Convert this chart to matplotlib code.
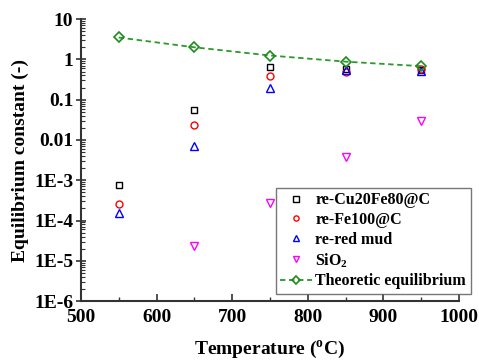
import matplotlib
matplotlib.use("Agg")
import matplotlib.pyplot as plt
from matplotlib.ticker import LogLocator, MultipleLocator, FuncFormatter

temps = [550, 650, 750, 850, 950]
cu20fe80 = [7.5e-4, 0.057, 0.63, 0.58, 0.56]
fe100 = [2.5e-4, 0.023, 0.38, 0.50, 0.58]
redmud = [1.5e-4, 0.0069, 0.20, 0.55, 0.53]
sio2_t = [650, 750, 850, 950]
sio2 = [2.3e-5, 2.7e-4, 0.0037, 0.030]
theo = [3.5, 2.0, 1.25, 0.88, 0.68]

ytick_vals = [1e-6, 1e-5, 1e-4, 1e-3, 0.01, 0.1, 1, 10]
ytick_labels = ["1E-6", "1E-5", "1E-4", "1E-3", "0.01", "0.1", "1", "10"]

plt.rcParams['font.family'] = ['Liberation Serif', 'DejaVu Serif']
plt.rcParams['font.weight'] = 'bold'
plt.rcParams['mathtext.fontset'] = 'custom'
plt.rcParams['mathtext.rm'] = 'Liberation Serif:bold'
plt.rcParams['mathtext.bf'] = 'Liberation Serif:bold'

fig = plt.figure(figsize=(4.79, 3.61), dpi=100)
ax = fig.add_axes([0.169, 0.166, 0.789, 0.781])

ms = 5
ax.plot(temps, cu20fe80, 's', mfc='none', mec='black', ms=ms, mew=1.0, label='re-Cu20Fe80@C')
ax.plot(temps, fe100, 'o', mfc='none', mec='red', ms=ms, mew=1.0, label='re-Fe100@C')
ax.plot(temps, redmud, '^', mfc='none', mec='blue', ms=ms+1, mew=1.0, label='re-red mud')
ax.plot(sio2_t, sio2, 'v', mfc='none', mec='magenta', ms=ms+1, mew=1.0, label='SiO$_2$')
ax.plot(temps, theo, '--D', color='#2a9a2a', mfc='none', mec='#1f8a1f', ms=ms, mew=1.2, lw=1.3,
        dashes=(3, 2), label='Theoretic equilibrium')

ax.set_yscale('log')
ax.set_ylim(1e-6, 10)
ax.set_xlim(500, 1000)
ax.set_yticks(ytick_vals)
ax.set_yticklabels(ytick_labels)
ax.yaxis.set_minor_locator(LogLocator(base=10, subs=range(2, 10), numticks=20))
ax.yaxis.set_minor_formatter(FuncFormatter(lambda v, p: ''))
ax.xaxis.set_major_locator(MultipleLocator(100))
ax.xaxis.set_minor_locator(MultipleLocator(50))

for s in ['top', 'right']:
    ax.spines[s].set_visible(False)
for s in ['left', 'bottom']:
    ax.spines[s].set_color('#333333')
    ax.spines[s].set_linewidth(1.5)

ax.tick_params(axis='y', which='major', direction='inout', length=7, width=1.2, labelsize=14, color='#333333', pad=2)
ax.tick_params(axis='y', which='minor', direction='in', length=3, width=0.8, color='#333333')
ax.tick_params(axis='x', which='major', direction='in', length=5, width=1.2, labelsize=14, color='#333333', pad=6)
ax.tick_params(axis='x', which='minor', direction='in', length=3, width=1.0, color='#333333')

for lab in ax.get_xticklabels() + ax.get_yticklabels():
    lab.set_fontweight('bold')

ax.set_xlabel('Temperature ($\\mathregular{^oC}$)', fontsize=14, fontweight='bold', labelpad=9)
ax.set_ylabel('Equilibrium constant (-)', fontsize=14, fontweight='bold', labelpad=4)

leg = ax.legend(loc='lower right', bbox_to_anchor=(1.032, 0.025), fontsize=11.5, frameon=True,
                fancybox=False, edgecolor='#555555', handlelength=2.0, handletextpad=0.2,
                borderpad=0.3, labelspacing=0.22, borderaxespad=0.0, markerscale=0.75)
leg.get_frame().set_linewidth(1.0)
for t in leg.get_texts():
    t.set_fontweight('bold')

fig.savefig('out.png', dpi=100)
